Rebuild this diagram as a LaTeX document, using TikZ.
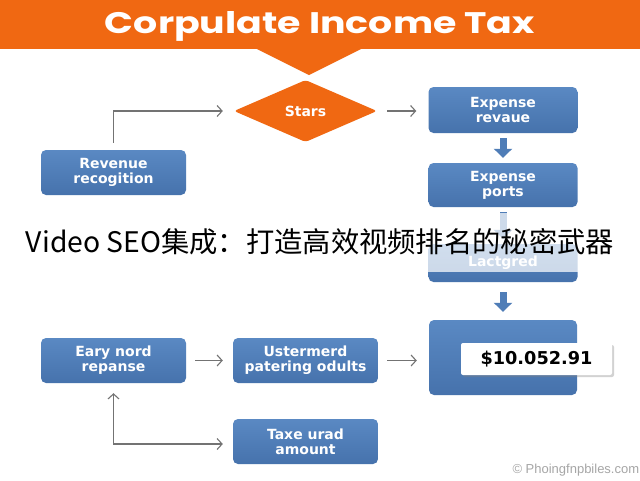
\documentclass[tikz,border=0pt]{standalone}
\usepackage{fontspec}
\setmainfont{DejaVu Sans}
\newfontfamily\cjk{Noto Sans CJK SC}
\newfontfamily\titlefont{Poppins}
\newfontfamily\wmfont{Liberation Sans}
\usetikzlibrary{shapes.geometric,arrows.meta,shadows}
\definecolor{boxblue}{RGB}{79,125,183}
\definecolor{boxtop}{RGB}{90,137,195}
\definecolor{boxbot}{RGB}{70,114,172}
\definecolor{orng}{RGB}{240,104,18}
\definecolor{conngray}{RGB}{115,115,115}
\tikzset{
  bbox/.style={rounded corners=5pt, top color=boxtop, bottom color=boxbot, draw=none,
    text=white, font=\bfseries\fontsize{14}{15}\selectfont, align=center,
    minimum width=145pt, minimum height=45pt, inner sep=0pt},
  conn/.style={draw=conngray, line width=1.1pt, -{Straight Barb[length=5pt,width=11pt]}},
  bconn/.style={draw=conngray, line width=1.1pt, {Straight Barb[length=5pt,width=11pt]}-{Straight Barb[length=5pt,width=11pt]}},
  blockarrow/.style={draw=boxblue, line width=7pt, -{Triangle[length=9pt,width=18pt]}},
}
\begin{document}
\begin{tikzpicture}[x=1pt,y=-1pt]
\useasboundingbox (0,0) rectangle (640,480);
\fill[white] (0,0) rectangle (640,480);
% title bar
\fill[orng] (0,0) rectangle (640,49);
\fill[orng] (255,48) -- (363,48) -- (309,75) -- cycle;
\node[anchor=base, inner sep=0pt] (title) at (320,33) {\resizebox{430pt}{22pt}{\titlefont\bfseries\color{white}Corpulate Income Tax}};
% nodes
\node[diamond, fill=orng, minimum width=143pt, minimum height=62pt, inner sep=0pt, aspect=2.3,
      rounded corners=3pt, text=white, font=\bfseries\fontsize{14}{15}\selectfont] (start) at (305.5,111) {Stars};
\node[bbox, minimum width=149pt, minimum height=46pt] (exp1) at (503,110) {Expense\\revaue};
\node[bbox, minimum width=149pt, minimum height=44pt] (exp2) at (503,185) {Expense\\ports};
\node[bbox, minimum width=149pt, minimum height=38pt] (lact) at (503,263) {Lactgred};
\node[bbox, minimum width=148pt, minimum height=75pt] (final) at (503,357.5) {};
\node[fill=white, minimum width=151pt, minimum height=32pt, inner sep=0pt, rounded corners=2pt,
      drop shadow={opacity=0.35, shadow xshift=2pt, shadow yshift=-2pt},
      font=\bfseries\fontsize{17.7}{19}\selectfont] (amount) at (536.5,359) {\$10.052.91};
\node[bbox] (rev) at (113.5,172.5) {Revenue\\recogition};
\node[bbox] (eary) at (113.5,360.5) {Eary nord\\repanse};
\node[bbox] (uster) at (305.5,360.5) {Ustermerd\\patering odults};
\node[bbox] (taxe) at (305.5,441.5) {Taxe urad\\amount};
% connectors
\draw[conn, shorten <=7pt, shorten >=11pt] (rev.north) |- (start.west);
\draw[conn, shorten <=10pt, shorten >=12pt] (start.east) -- (exp1.west |- start.east);
\draw[blockarrow, shorten <=5pt, shorten >=5pt] (exp1) -- (exp2);
\draw[blockarrow, shorten <=5pt, shorten >=5pt] (exp2) -- (lact);
\draw[blockarrow, shorten <=10pt, shorten >=8pt] (lact) -- (final);
\draw[conn, shorten <=9pt, shorten >=10pt] (eary) -- (uster);
\draw[conn, shorten <=9pt, shorten >=12pt] (uster.east) -- (uster.east -| final.west);
\coordinate (corner) at (eary.south |- 0,444);
\draw[bconn, shorten <=10pt, shorten >=10pt] (eary.south) -- (corner) -- (corner -| taxe.west);
% overlay band and text
\fill[white, opacity=0.72] (0,213) rectangle (640,272);
\node[font=\cjk\fontsize{28.3}{30}\selectfont, text=black] (banner) at (320,242) {Video SEO集成：打造高效视频排名的秘密武器};
% watermark
\node[anchor=west, text=gray!70, font=\wmfont\fontsize{13}{14}\selectfont] (wm) at (509,470) {© Phoingfnpbiles.com};
\end{tikzpicture}
\end{document}
